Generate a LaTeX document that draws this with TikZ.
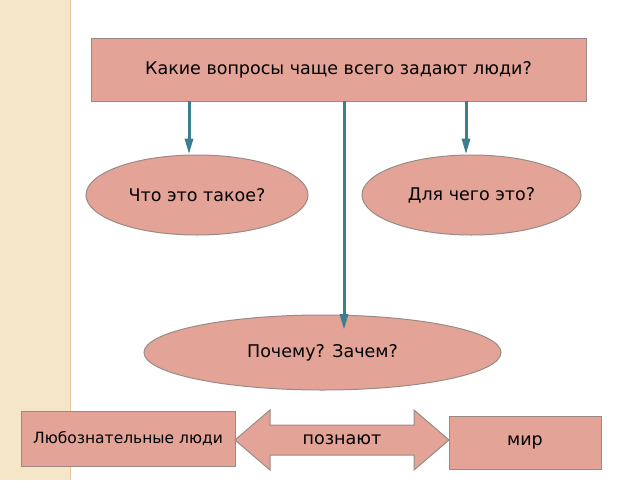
\documentclass[tikz,border=0pt]{standalone}
\usepackage{fontspec}
\setmainfont{DejaVu Sans}
\usetikzlibrary{shapes.geometric,arrows.meta}
\definecolor{pinkf}{HTML}{E3A497}
\definecolor{edgeg}{HTML}{9A8A86}
\definecolor{teal1}{HTML}{3B7E8E}
\definecolor{beige}{HTML}{F4E6C6}
\tikzset{
 box/.style={draw=edgeg,line width=1pt,fill=pinkf,inner sep=0pt},
 oval/.style={ellipse,draw=edgeg,line width=1pt,fill=pinkf,inner sep=0pt},
 conn/.style={draw=teal1,line width=3pt,-{Triangle[length=16pt,width=8pt]}},
 txt/.style={font=\fontsize{17.5}{20}\selectfont}
}
\begin{document}
\begin{tikzpicture}[x=1pt,y=-1pt]
\useasboundingbox (0,0) rectangle (640,480);
\fill[white] (0,0) rectangle (640,480);
\fill[beige] (0,0) rectangle (70,480);
\draw[color=beige!70!brown,line width=1pt] (70,0) -- (70,480);
\node[box,minimum width=495pt,minimum height=63pt,txt] (top) at (338.5,69.5) {Какие вопросы чаще всего задают люди?};
\node[oval,minimum width=222pt,minimum height=80pt,txt] (e1) at (197,195) {Что это такое?};
\node[oval,minimum width=219pt,minimum height=80pt,txt] (e2) at (471.5,195) {Для чего это?};
\node[oval,minimum width=357pt,minimum height=75pt,txt] (e3) at (322.5,352.5) {Почему? Зачем?};
\coordinate (a1) at (189,101); \coordinate (a2) at (344,101); \coordinate (a3) at (466,101);
\draw[conn] (a1) -- (e1.north -| a1);
\draw[conn] (a3) -- (e2.north -| a3);
\draw[conn] (a2) -- (344,330);
\node[box,minimum width=214pt,minimum height=55pt,font=\fontsize{15.5}{18}\selectfont] (lb) at (128,438.5) {Любознательные люди};
\node[box,minimum width=152pt,minimum height=53pt,txt] (rb) at (525,442.5) {мир};
\draw[box] (235,440) -- (270,410) -- (270,425) -- (414,425) -- (414,410) -- (449,440) -- (414,470) -- (414,455) -- (270,455) -- (270,470) -- cycle;
\node[txt] (lbl) at (342,440) {познают};
\end{tikzpicture}
\end{document}
